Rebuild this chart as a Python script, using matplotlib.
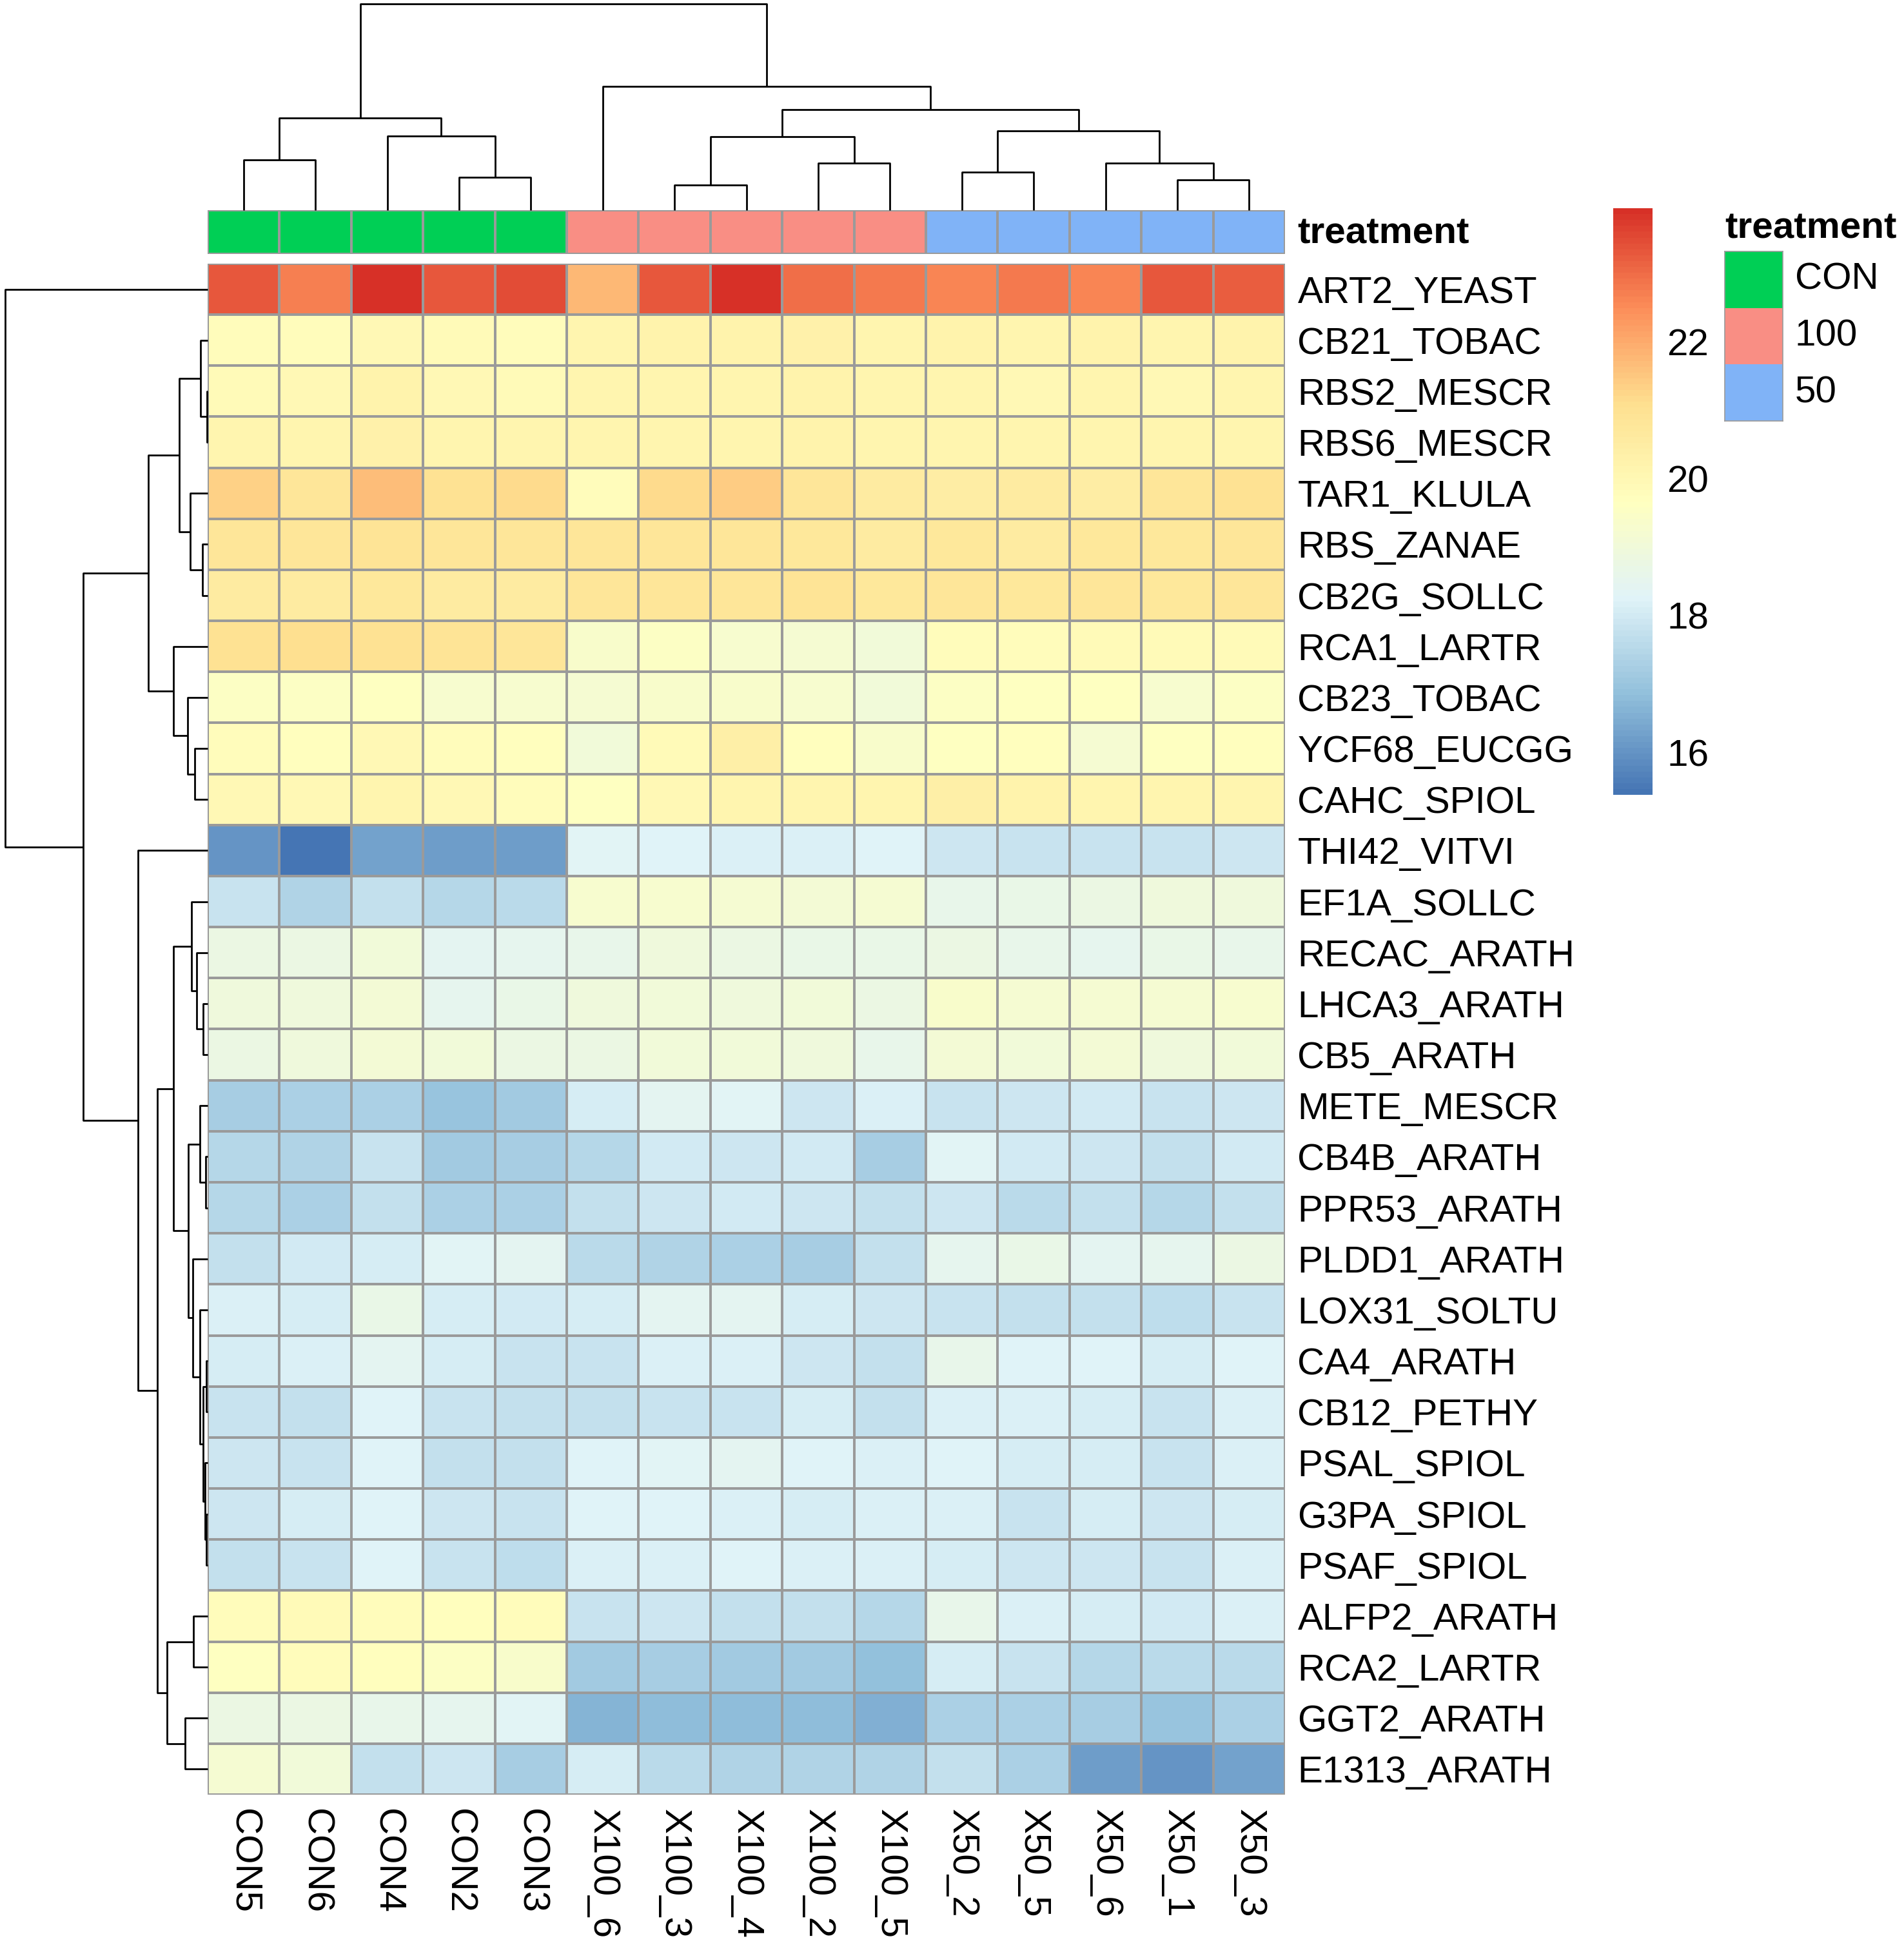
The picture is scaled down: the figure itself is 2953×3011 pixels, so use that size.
import matplotlib
matplotlib.use("Agg")
import matplotlib.pyplot as plt
import numpy as np
from matplotlib.colors import LinearSegmentedColormap, ListedColormap, Normalize
from matplotlib.cm import ScalarMappable

plt.rcParams['font.family'] = ['Liberation Sans', 'DejaVu Sans']

# ---- data ----
samples = ["CON5", "CON6", "CON4", "CON2", "CON3",
           "X100_6", "X100_3", "X100_4", "X100_2", "X100_5",
           "X50_2", "X50_5", "X50_6", "X50_1", "X50_3"]
treatment = ["CON"] * 5 + ["100"] * 5 + ["50"] * 5
treat_levels = ["CON", "100", "50"]
treat_colors = ["#00CF55", "#F98E84", "#80B3F7"]

proteins = ["ART2_YEAST", "CB21_TOBAC", "RBS2_MESCR", "RBS6_MESCR", "TAR1_KLULA",
            "RBS_ZANAE", "CB2G_SOLLC", "RCA1_LARTR", "CB23_TOBAC", "YCF68_EUCGG",
            "CAHC_SPIOL", "THI42_VITVI", "EF1A_SOLLC", "RECAC_ARATH", "LHCA3_ARATH",
            "CB5_ARATH", "METE_MESCR", "CB4B_ARATH", "PPR53_ARATH", "PLDD1_ARATH",
            "LOX31_SOLTU", "CA4_ARATH", "CB12_PETHY", "PSAL_SPIOL", "G3PA_SPIOL",
            "PSAF_SPIOL", "ALFP2_ARATH", "RCA2_LARTR", "GGT2_ARATH", "E1313_ARATH"]

values = [
    [23.3, 22.7, 23.95, 23.3, 23.5, 21.8, 23.3, 23.9, 23.0, 22.8, 22.6, 22.8, 22.6, 23.3, 23.2],
    [19.8, 19.8, 20.0, 19.9, 19.8, 20.1, 20.2, 20.2, 20.3, 20.1, 20.2, 20.1, 20.2, 20.1, 20.2],
    [19.9, 20.0, 20.2, 20.0, 19.9, 20.1, 20.1, 20.1, 20.2, 20.1, 20.1, 20.0, 20.1, 20.0, 20.1],
    [20.1, 20.1, 20.3, 20.1, 20.1, 20.1, 20.1, 20.1, 20.2, 20.1, 20.1, 20.1, 20.1, 20.1, 20.1],
    [21.3, 20.8, 21.7, 21.0, 21.2, 19.8, 21.2, 21.4, 20.8, 20.6, 20.5, 20.6, 20.5, 20.8, 21.0],
    [20.8, 20.8, 20.9, 20.8, 20.8, 20.8, 20.8, 20.8, 20.7, 20.6, 20.7, 20.6, 20.7, 20.7, 20.8],
    [20.6, 20.6, 20.7, 20.6, 20.6, 20.8, 20.8, 20.8, 20.9, 20.7, 20.8, 20.7, 20.8, 20.7, 20.8],
    [21.0, 21.1, 21.0, 20.9, 20.8, 19.4, 19.5, 19.3, 19.2, 19.0, 19.8, 19.8, 19.9, 19.9, 19.9],
    [19.5, 19.5, 19.6, 19.3, 19.3, 19.2, 19.4, 19.4, 19.3, 19.0, 19.5, 19.6, 19.6, 19.3, 19.5],
    [19.8, 19.7, 20.0, 19.8, 19.7, 19.0, 19.9, 20.4, 19.7, 19.4, 19.6, 19.7, 19.2, 19.6, 19.7],
    [20.0, 20.0, 20.1, 20.0, 19.8, 19.6, 20.0, 20.1, 20.1, 20.1, 20.4, 20.2, 20.1, 20.1, 20.1],
    [16.0, 15.38, 16.3, 16.2, 16.2, 18.35, 18.25, 18.15, 18.15, 18.25, 17.9, 17.8, 17.8, 17.8, 17.9],
    [17.8, 17.4, 17.7, 17.5, 17.6, 19.3, 19.3, 19.2, 19.1, 19.2, 18.6, 18.7, 18.8, 18.9, 18.9],
    [18.8, 18.8, 19.0, 18.4, 18.5, 18.6, 18.9, 18.8, 18.7, 18.7, 18.8, 18.6, 18.5, 18.7, 18.6],
    [18.9, 18.9, 19.1, 18.5, 18.7, 18.9, 19.0, 18.9, 19.0, 18.8, 19.4, 19.2, 19.2, 19.2, 19.3],
    [18.8, 18.9, 19.1, 19.0, 18.8, 18.8, 19.0, 19.0, 18.9, 18.6, 19.1, 19.0, 19.1, 18.9, 19.0],
    [17.2, 17.3, 17.3, 17.0, 17.1, 18.1, 18.4, 18.3, 17.9, 18.2, 17.8, 17.9, 18.0, 17.8, 17.9],
    [17.5, 17.4, 17.8, 17.1, 17.2, 17.5, 18.0, 17.9, 18.0, 17.2, 18.3, 18.0, 17.9, 17.7, 18.0],
    [17.5, 17.3, 17.7, 17.3, 17.3, 17.7, 17.9, 18.0, 17.9, 17.7, 17.9, 17.6, 17.7, 17.5, 17.7],
    [17.7, 18.0, 18.1, 18.3, 18.4, 17.6, 17.4, 17.3, 17.2, 17.7, 18.5, 18.7, 18.4, 18.5, 18.8],
    [18.15, 18.05, 18.7, 18.1, 18.0, 18.05, 18.4, 18.4, 18.05, 17.95, 17.85, 17.75, 17.75, 17.65, 17.85],
    [18.05, 18.15, 18.45, 18.05, 17.85, 17.85, 18.15, 18.15, 17.95, 17.75, 18.6, 18.25, 18.25, 18.05, 18.25],
    [17.85, 17.75, 18.25, 17.85, 17.75, 17.75, 17.85, 17.85, 18.05, 17.75, 18.15, 18.15, 18.05, 17.85, 18.15],
    [17.95, 17.85, 18.25, 17.75, 17.75, 18.25, 18.35, 18.45, 18.25, 18.15, 18.25, 18.05, 18.05, 17.85, 18.15],
    [17.95, 18.05, 18.25, 17.95, 17.85, 18.25, 18.25, 18.15, 18.05, 18.15, 18.15, 17.85, 18.05, 17.95, 18.05],
    [17.75, 17.85, 18.25, 17.85, 17.65, 18.15, 18.15, 18.25, 18.15, 18.15, 18.05, 17.95, 17.95, 17.85, 18.15],
    [19.8, 19.9, 19.8, 19.7, 19.8, 17.8, 17.9, 17.7, 17.7, 17.5, 18.6, 18.2, 18.1, 18.0, 18.2],
    [19.6, 19.8, 19.7, 19.5, 19.4, 17.1, 17.2, 17.1, 17.1, 16.9, 18.1, 17.8, 17.5, 17.6, 17.6],
    [18.8, 18.8, 18.6, 18.5, 18.3, 16.6, 16.8, 16.8, 16.8, 16.5, 17.3, 17.3, 17.2, 17.0, 17.3],
    [19.2, 19.0, 17.7, 17.9, 17.2, 18.1, 17.6, 17.4, 17.4, 17.4, 17.7, 17.3, 16.2, 16.0, 16.3],
]

# column clustering: (node, left, right, height)
col_merges = [
    ("c1", "CON5", "CON6", 78), ("c2", "CON2", "CON3", 51), ("c3", "CON4", "c2", 115),
    ("c4", "c1", "c3", 143), ("c5", "X100_3", "X100_4", 39), ("c6", "X100_2", "X100_5", 73),
    ("c7", "c5", "c6", 114), ("c8", "X50_2", "X50_5", 59), ("c9", "X50_1", "X50_3", 47),
    ("c10", "X50_6", "c9", 73), ("c11", "c8", "c10", 123), ("c12", "c7", "c11", 156),
    ("c13", "X100_6", "c12", 192), ("c14", "c4", "c13", 320),
]

# row clustering
row_merges = [
    ("r1", "RBS2_MESCR", "RBS6_MESCR", 1.5), ("r2", "CB21_TOBAC", "r1", 11),
    ("r3", "RBS_ZANAE", "CB2G_SOLLC", 8), ("r4", "TAR1_KLULA", "r3", 27),
    ("r5", "r2", "r4", 44), ("r6", "YCF68_EUCGG", "CAHC_SPIOL", 20),
    ("r7", "CB23_TOBAC", "r6", 31), ("r8", "RCA1_LARTR", "r7", 53), ("r9", "r5", "r8", 92),
    ("r10", "LHCA3_ARATH", "CB5_ARATH", 7), ("r11", "RECAC_ARATH", "r10", 17),
    ("r12", "EF1A_SOLLC", "r11", 25), ("r13", "CB4B_ARATH", "PPR53_ARATH", 3),
    ("r14", "METE_MESCR", "r13", 12), ("r15", "CA4_ARATH", "CB12_PETHY", 2),
    ("r16", "G3PA_SPIOL", "PSAF_SPIOL", 2), ("r17", "PSAL_SPIOL", "r16", 4),
    ("r18", "r15", "r17", 7), ("r19", "LOX31_SOLTU", "r18", 12),
    ("r20", "PLDD1_ARATH", "r19", 23), ("r21", "r14", "r20", 30), ("r22", "r12", "r21", 53),
    ("r23", "ALFP2_ARATH", "RCA2_LARTR", 22), ("r24", "GGT2_ARATH", "E1313_ARATH", 35),
    ("r25", "r23", "r24", 63), ("r26", "r22", "r25", 78), ("r27", "THI42_VITVI", "r26", 108),
    ("r28", "r9", "r27", 193), ("r29", "ART2_YEAST", "r28", 314),
]

palette = ["#4575B4", "#91BFDB", "#E0F3F8", "#FFFFBF", "#FEE090", "#FC8D59", "#D73027"]


def draw_tree(ax, merges, leaves, top):
    pos = {name: i + 0.5 for i, name in enumerate(leaves)}
    hgt = {name: 0.0 for name in leaves}
    for node, a, b, h in merges:
        pa, pb = pos[a], pos[b]
        if top:
            ax.plot([pa, pa, pb, pb], [hgt[a], h, h, hgt[b]], color="black", lw=2,
                    clip_on=False, solid_capstyle="butt")
        else:
            ax.plot([hgt[a], h, h, hgt[b]], [pa, pa, pb, pb], color="black", lw=2,
                    clip_on=False, solid_capstyle="butt")
        pos[node] = (pa + pb) / 2
        hgt[node] = h
    ax.axis("off")


W, H = 2953, 3011
fig = plt.figure(figsize=(W / 100, H / 100), dpi=100)


def px_axes(x0, y0, x1, y1):
    return fig.add_axes([x0 / W, 1 - y1 / H, (x1 - x0) / W, (y1 - y0) / H])


mat = np.array(values)
cmap = LinearSegmentedColormap.from_list("rdylbu", palette, N=100)
norm = Normalize(vmin=mat.min(), vmax=mat.max())

# heatmap
ax = px_axes(322, 409, 1993, 2784)
ax.pcolormesh(mat, cmap=cmap, norm=norm, edgecolors="#9a9a9a", linewidth=1.5)
ax.set_xlim(0, len(samples))
ax.set_ylim(len(proteins), 0)
ax.set_xticks(np.arange(len(samples)) + 0.5)
ax.set_xticklabels(samples, rotation=270, ha="center", va="top", fontsize=42)
ax.set_yticks(np.arange(len(proteins)) + 0.5)
ax.set_yticklabels(proteins, fontsize=42)
ax.yaxis.tick_right()
ax.tick_params(length=0, pad=14)
ax.tick_params(axis="x", pad=16)
for s in ax.spines.values():
    s.set_visible(False)

# annotation bar
ax_ann = px_axes(322, 326, 1993, 394)
codes = np.array([[treat_levels.index(t) for t in treatment]])
ax_ann.pcolormesh(codes, cmap=ListedColormap(treat_colors), vmin=-0.5, vmax=2.5,
                  edgecolors="#9a9a9a", linewidth=1.5)
ax_ann.set_xlim(0, len(samples))
ax_ann.set_ylim(0, 1)
ax_ann.set_xticks([])
ax_ann.set_yticks([])
for s in ax_ann.spines.values():
    s.set_visible(False)
fig.text(2012 / W, 1 - 362 / H, "treatment", fontsize=42, fontweight="bold",
         ha="left", va="center")

# dendrograms
ax_top = px_axes(322, 6, 1993, 326)
draw_tree(ax_top, col_merges, samples, True)
ax_top.set_xlim(0, len(samples))
ax_top.set_ylim(0, 320)

ax_left = px_axes(6, 409, 322, 2784)
draw_tree(ax_left, row_merges, proteins, False)
ax_left.set_ylim(len(proteins), 0)
ax_left.set_xlim(316, 0)

# colorbar
cax = px_axes(2502, 323, 2563, 1233)
cb = fig.colorbar(ScalarMappable(norm=norm, cmap=cmap), cax=cax, ticks=[16, 18, 20, 22])
cb.outline.set_visible(False)
cax.tick_params(length=0, labelsize=42, pad=16)

# treatment legend
ax_leg = px_axes(2675, 390, 2765, 653)
ax_leg.pcolormesh(np.array([[0], [1], [2]]), cmap=ListedColormap(treat_colors),
                  vmin=-0.5, vmax=2.5)
ax_leg.set_ylim(3, 0)
ax_leg.set_xticks([])
ax_leg.set_yticks([])
for s in ax_leg.spines.values():
    s.set_color("#9a9a9a")
    s.set_linewidth(1.2)
fig.text(2675 / W, 1 - 355 / H, "treatment", fontsize=42, fontweight="bold",
         ha="left", va="center")
for i, lev in enumerate(treat_levels):
    fig.text(2784 / W, 1 - (390 + 263 / 3 * (i + 0.5)) / H, lev, fontsize=42,
             ha="left", va="center")

fig.savefig("out.png", dpi=100)
